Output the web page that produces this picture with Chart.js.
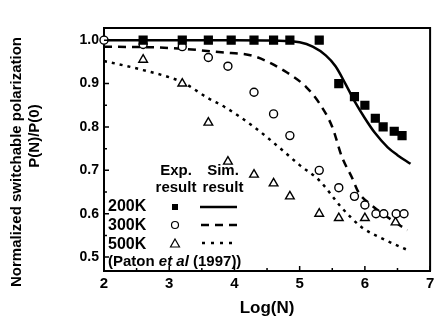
<!DOCTYPE html>
<html>
<head>
<meta charset="utf-8">
<script src="https://cdn.jsdelivr.net/npm/chart.js@4/dist/chart.umd.min.js"></script>
<style>
  html, body { margin: 0; padding: 0; background: #fff; }
  #wrap { width: 437px; height: 321px; position: relative; }
</style>
</head>
<body>
<div id="wrap"><canvas id="fatigueChart"></canvas></div>
<script>
// measured points (Log(N), P(N)/P(0))
const exp200x = [2.6, 3.2, 3.6, 3.95, 4.3, 4.6, 4.85, 5.3, 5.6, 5.84, 6.0, 6.16, 6.28, 6.45, 6.57];
const exp200y = [1.0, 1.0, 1.0, 1.0, 1.0, 1.0, 1.0, 1.0, 0.90, 0.87, 0.85, 0.82, 0.80, 0.79, 0.78];
const exp300x = [2.0, 2.6, 3.2, 3.6, 3.9, 4.3, 4.6, 4.85, 5.3, 5.6, 5.84, 6.0, 6.17, 6.29, 6.48, 6.6];
const exp300y = [1.0, 0.99, 0.985, 0.96, 0.94, 0.88, 0.83, 0.78, 0.70, 0.66, 0.64, 0.62, 0.60, 0.60, 0.60, 0.60];
const exp500x = [2.6, 3.2, 3.6, 3.9, 4.3, 4.6, 4.85, 5.3, 5.6, 6.0, 6.47];
const exp500y = [0.955, 0.90, 0.81, 0.72, 0.69, 0.67, 0.64, 0.60, 0.59, 0.59, 0.58];

// simulation curves
const sim200x = [2.0, 3.0, 4.0, 4.6, 5.0, 5.2, 5.4, 5.55, 5.7, 5.85, 6.0, 6.15, 6.35, 6.5, 6.7];
const sim200y = [1.0, 1.0, 1.0, 0.999, 0.995, 0.985, 0.965, 0.94, 0.90, 0.857, 0.82, 0.787, 0.753, 0.735, 0.715];
const sim300x = [2.0, 3.0, 3.8, 4.3, 4.8, 5.1, 5.3, 5.5, 5.65, 5.8, 5.9, 6.1, 6.35, 6.65];
const sim300y = [0.985, 0.982, 0.972, 0.963, 0.926, 0.892, 0.855, 0.80, 0.73, 0.684, 0.65, 0.62, 0.592, 0.562];
const sim500x = [2.0, 2.6, 3.2, 3.6, 3.85, 4.3, 4.7, 5.0, 5.3, 5.65, 5.95, 6.25, 6.66];
const sim500y = [0.952, 0.931, 0.903, 0.866, 0.846, 0.80, 0.751, 0.712, 0.677, 0.613, 0.569, 0.544, 0.516];

const xTicks = [2, 3, 4, 5, 6, 7];
const yTicks = [0.5, 0.6, 0.7, 0.8, 0.9, 1.0];

const zip = (xs, ys) => xs.map((x, i) => ({ x: x, y: ys[i] }));
const FONT = '"Liberation Sans", Arial, sans-serif';
const frameBorder = { display: true, color: '#000', width: 2 };

function simLine(label, xs, ys, dash) {
  return {
    label: label,
    data: zip(xs, ys),
    showLine: true,
    borderColor: '#000',
    borderWidth: 2.5,
    borderDash: dash,
    pointRadius: 0,
    cubicInterpolationMode: 'monotone',
    clip: false,
    order: 2
  };
}

function expPoints(label, xs, ys, style, radius, filled) {
  return {
    label: label,
    data: zip(xs, ys),
    showLine: false,
    pointStyle: style,
    pointRadius: radius,
    pointBorderWidth: 1.4,
    pointBorderColor: '#000',
    pointBackgroundColor: filled ? '#000' : '#fff',
    clip: false,
    order: 1
  };
}

function seg(ctx, x1, y1, x2, y2) {
  ctx.moveTo(x1, y1);
  ctx.lineTo(x2, y2);
}

// box top/right, inward ticks, axis titles and the key table
const decor = {
  id: 'decor',
  afterDraw(chart) {
    const { ctx, chartArea: a, scales } = chart;
    const sx = scales.x, sy = scales.y;
    ctx.save();
    ctx.strokeStyle = '#000';
    ctx.fillStyle = '#000';
    ctx.setLineDash([]);

    ctx.lineWidth = 2;
    ctx.beginPath();
    seg(ctx, a.left - 1, a.top, a.right + 1, a.top);
    seg(ctx, a.right, a.top, a.right, a.bottom);
    ctx.stroke();

    ctx.lineWidth = 1.5;
    ctx.beginPath();
    for (let v = 2; v <= 7.001; v += 0.5) {
      const px = sx.getPixelForValue(v);
      const len = Math.abs(v - Math.round(v)) < 0.01 ? 5 : 3;
      seg(ctx, px, a.bottom, px, a.bottom - len);
    }
    for (let v = 0.5; v <= 1.0001; v += 0.05) {
      const py = sy.getPixelForValue(v);
      const len = Math.abs(v * 10 - Math.round(v * 10)) < 0.01 ? 5 : 3;
      seg(ctx, a.left, py, a.left + len, py);
    }
    ctx.stroke();

    // axis titles
    ctx.textAlign = 'center';
    ctx.textBaseline = 'alphabetic';
    ctx.font = 'bold 17px ' + FONT;
    ctx.fillText('Log(N)', (a.left + a.right) / 2, 313);
    ctx.textBaseline = 'middle';
    ctx.save();
    ctx.translate(17, 162);
    ctx.rotate(-Math.PI / 2);
    ctx.font = 'bold 15px ' + FONT;
    ctx.fillText('Normalized switchable polarization', 0, 0);
    ctx.restore();
    ctx.save();
    ctx.translate(35, 136);
    ctx.rotate(-Math.PI / 2);
    ctx.font = 'bold 15px ' + FONT;
    ctx.fillText('P(N)/P(0)', 0, 0);
    ctx.restore();

    // key
    ctx.font = 'bold 15px ' + FONT;
    ctx.fillText('Exp.', 176, 171);
    ctx.fillText('result', 176, 188);
    ctx.fillText('Sim.', 223, 171);
    ctx.fillText('result', 223, 188);
    ctx.textAlign = 'left';
    ctx.font = 'bold 16px ' + FONT;
    ctx.fillText('200K', 108, 207);
    ctx.fillText('300K', 108, 226);
    ctx.fillText('500K', 108, 245);
    let tx = 108;
    const parts = [['(Paton ', 'bold'], ['et al', 'italic bold'], [' (1997))', 'bold']];
    parts.forEach(p => {
      ctx.font = p[1] + ' 15px ' + FONT;
      ctx.fillText(p[0], tx, 262);
      tx += ctx.measureText(p[0]).width;
    });

    // key markers
    ctx.fillRect(172, 204, 6, 6);
    ctx.lineWidth = 1.2;
    ctx.beginPath();
    ctx.arc(175, 225, 3.5, 0, Math.PI * 2);
    ctx.stroke();
    ctx.beginPath();
    ctx.moveTo(175, 239); ctx.lineTo(179.5, 247); ctx.lineTo(170.5, 247); ctx.closePath();
    ctx.stroke();

    ctx.lineWidth = 2.5;
    ctx.beginPath();
    seg(ctx, 200, 207, 237, 207);
    ctx.stroke();
    ctx.setLineDash([8, 6]);
    ctx.beginPath();
    seg(ctx, 201, 225, 241, 225);
    ctx.stroke();
    ctx.setLineDash([3, 6]);
    ctx.beginPath();
    seg(ctx, 202, 243, 234, 243);
    ctx.stroke();
    ctx.restore();
  }
};

new Chart(document.getElementById('fatigueChart'), {
  type: 'scatter',
  data: {
    datasets: [
      simLine('200K Sim.', sim200x, sim200y, []),
      simLine('300K Sim.', sim300x, sim300y, [8, 6]),
      simLine('500K Sim.', sim500x, sim500y, [3, 5]),
      expPoints('200K Exp.', exp200x, exp200y, 'rect', 5.5, true),
      expPoints('300K Exp.', exp300x, exp300y, 'circle', 4, false),
      expPoints('500K Exp.', exp500x, exp500y, 'triangle', 5, false)
    ]
  },
  options: {
    responsive: true,
    maintainAspectRatio: false,
    animation: false,
    layout: { padding: { top: 28, right: 5, left: 0, bottom: 0 } },
    plugins: {
      legend: { display: false },
      tooltip: { enabled: false }
    },
    scales: {
      x: {
        type: 'linear',
        min: 2,
        max: 7,
        afterFit: s => { s.height = 50; s.paddingLeft = 0; s.paddingRight = 0; },
        afterBuildTicks: s => { s.ticks = xTicks.map(v => ({ value: v })); },
        grid: { display: false, drawTicks: false },
        border: frameBorder,
        ticks: {
          padding: 4,
          color: '#000',
          font: { family: FONT, size: 15, weight: 'bold' }
        }
      },
      y: {
        type: 'linear',
        min: 0.468,
        max: 1.028,
        afterFit: s => { s.width = 104; s.paddingTop = 0; s.paddingBottom = 0; },
        afterBuildTicks: s => { s.ticks = yTicks.map(v => ({ value: v })); },
        grid: { display: false, drawTicks: false },
        border: frameBorder,
        ticks: {
          padding: 5,
          color: '#000',
          font: { family: FONT, size: 14, weight: 'bold' },
          callback: v => Number(v).toFixed(1)
        }
      }
    }
  },
  plugins: [decor]
});
</script>
</body>
</html>
